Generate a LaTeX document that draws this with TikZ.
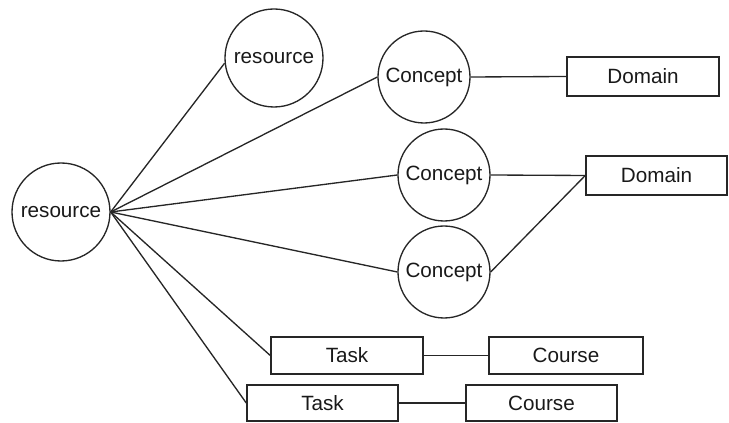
\documentclass[tikz,border=0pt]{standalone}
\usepackage{fontspec}
\setmainfont{Liberation Sans}
\begin{document}
\begin{tikzpicture}[x=0.75pt,y=-0.75pt,
  every node/.style={font=\fontsize{15.5pt}{18pt}\selectfont, text=black!90},
  ent/.style={draw=black!85, line width=1pt, circle, inner sep=0pt, minimum size=#1*0.75pt},
  box/.style={draw=black!85, line width=1.1pt, rectangle, inner sep=0pt,
              minimum width=#1*0.75pt, minimum height=37*0.75pt},
  link/.style={draw=black!85, line width=1pt}]
\useasboundingbox (0,0) rectangle (729,423);
\begin{scope}
\clip (0,0) rectangle (729,423);
% circles
\node[ent=98] (res1) at (61,212) {resource};
\node[ent=98] (res2) at (274,58) {resource};
\node[ent=92] (c1) at (424,77) {Concept};
\node[ent=92] (c2) at (444,175) {Concept};
\node[ent=92] (c3) at (444,272) {Concept};
% boxes
\node[box=152, minimum height=39*0.75pt] (d1) at (643,76.5) {Domain};
\node[box=141, minimum height=39*0.75pt] (d2) at (656.5,175.5) {Domain};
\node[box=152] (t1) at (347,355.5) {Task};
\node[box=154] (k1) at (566,355.5) {Course};
\node[box=151, minimum height=36*0.75pt] (t2) at (322.5,403) {Task};
\node[box=151, minimum height=36*0.75pt] (k2) at (541.5,403) {Course};
% fan of links from the left resource
\coordinate (hub) at (res1.east);
\draw[link] (hub) -- (res2.186);
\draw[link] (hub) -- (c1.west);
\draw[link] (hub) -- (c2.west);
\draw[link] (hub) -- (c3.west);
\draw[link] (hub) -- (t1.west);
\draw[link] (hub) -- (t2.west);
% remaining links
\draw[link] (c1.east) -- (d1.west);
\draw[link] (c2.east) -- (d2.west);
\draw[link] (c3.east) -- (d2.west);
\draw[link] (t1.east) -- (k1.west);
\draw[link] (t2.east) -- (k2.west);
\end{scope}
\end{tikzpicture}
\end{document}
